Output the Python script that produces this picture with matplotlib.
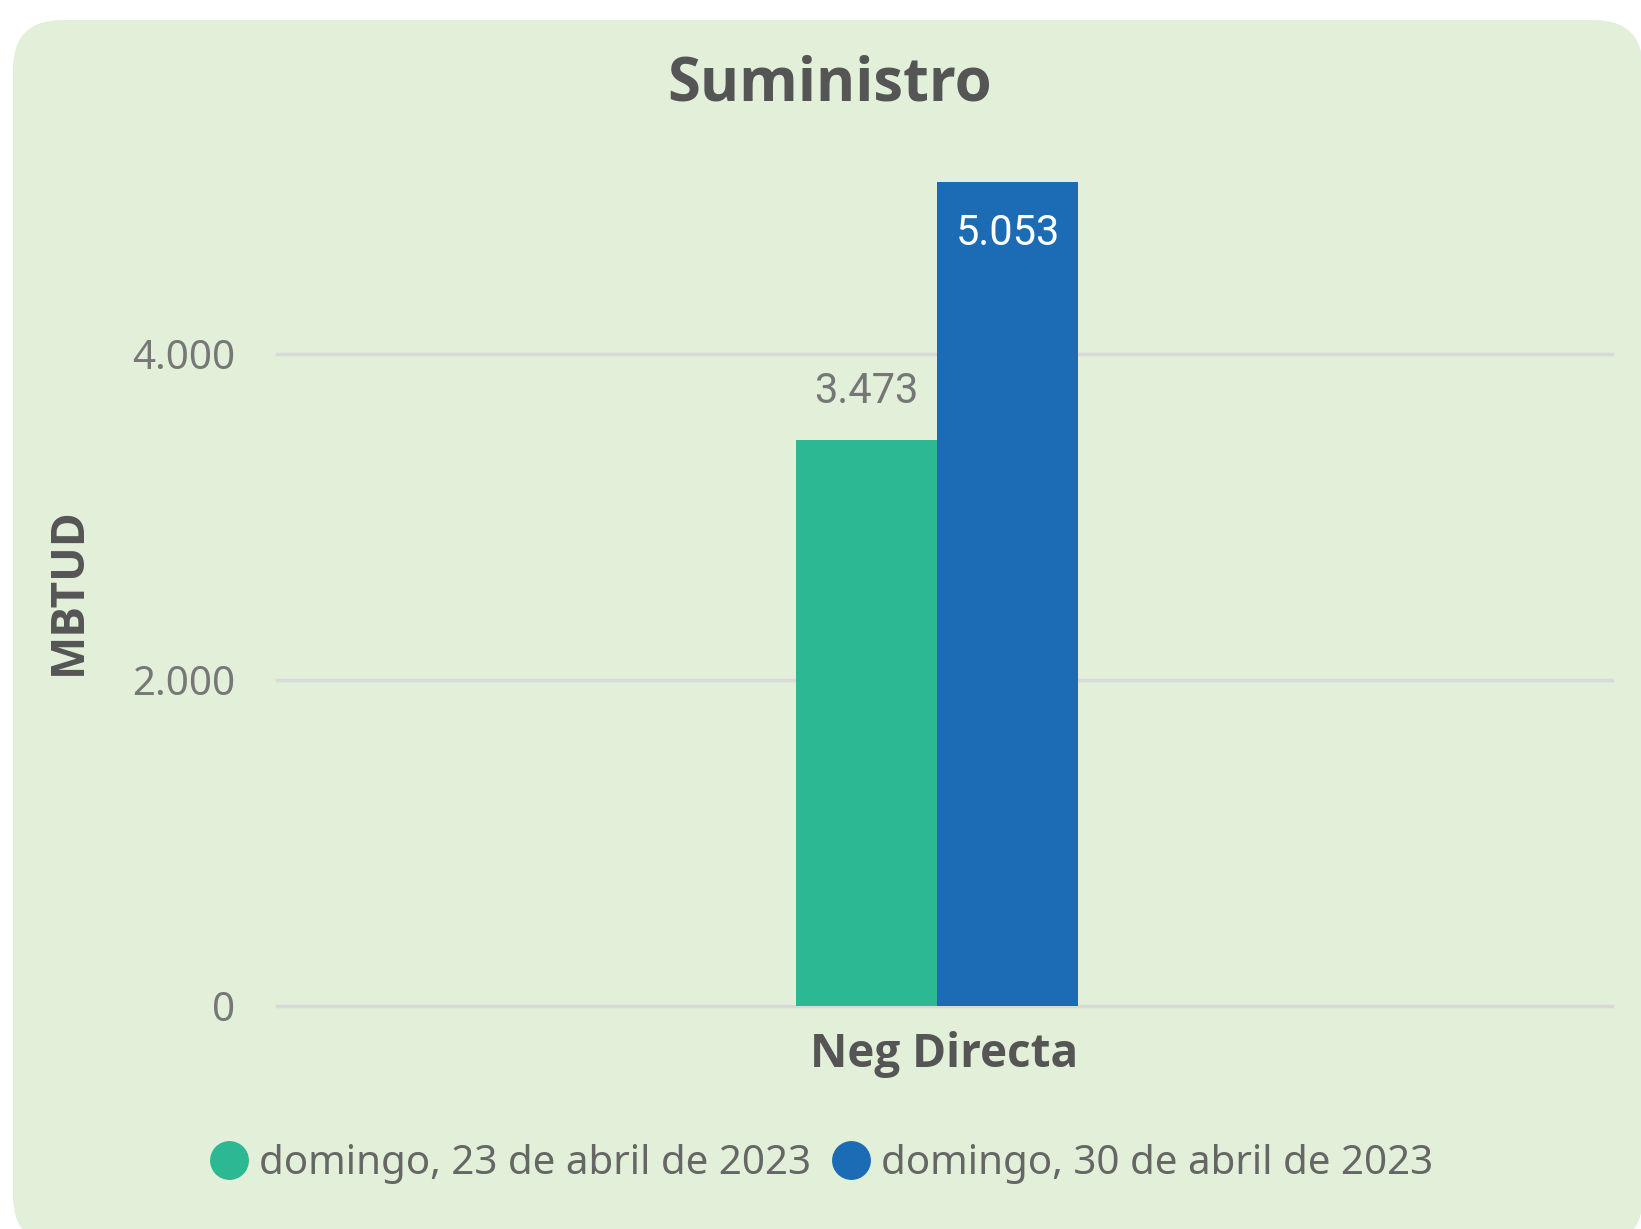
import matplotlib.pyplot as plt
from matplotlib.patches import FancyBboxPatch
from matplotlib.lines import Line2D

categories = ['Neg Directa']
series_names = ['domingo, 23 de abril de 2023', 'domingo, 30 de abril de 2023']
values_23 = [3473]
values_30 = [5053]
y_ticks = [0, 2000, 4000]
y_tick_labels = ['0', '2.000', '4.000']

green = '#2BB893'
blue = '#1B6CB4'
panel_bg = '#E2EFD9'

plt.rcParams['font.family'] = ['Noto Sans', 'DejaVu Sans']
bold_font = ['Open Sans', 'DejaVu Sans']

W, H = 1641, 1229
fig = plt.figure(figsize=(W / 100, H / 100), dpi=100)
fig.patch.set_facecolor('white')

# rounded green panel behind everything
panel = FancyBboxPatch((13 / W, 1 - 1245 / H), (1643 - 13) / W, (1245 - 20) / H,
                       boxstyle='round,pad=0,rounding_size=0.03',
                       transform=fig.transFigure, facecolor=panel_bg,
                       edgecolor='none', mutation_aspect=W / H, zorder=-5)
fig.patches.append(panel)

ax = fig.add_axes([277 / W, 1 - 1006 / H, (1612 - 277) / W, 864 / H])
ax.set_facecolor('none')
ax.set_zorder(2)

x = list(range(len(categories)))
w = 141 / 1335
b1 = ax.bar([i - w / 2 for i in x], values_23, width=w, color=green, zorder=3)
b2 = ax.bar([i + w / 2 for i in x], values_30, width=w, color=blue, zorder=3)

# bars sit a little left of the plot centre in the original
ax.set_xlim(-0.4944, 0.5056)
ax.set_ylim(0, 5300)
ax.set_yticks(y_ticks)
ax.set_yticklabels(y_tick_labels)
ax.set_xticks([i + 0.0056 for i in x])
ax.set_xticklabels(categories, fontsize=33, fontweight='bold', color='#555555',
                   family=bold_font)
ax.tick_params(axis='y', length=0, pad=30, labelsize=29, labelcolor='#777777')
ax.tick_params(axis='x', length=0, pad=18)
ax.yaxis.grid(True, color='#D9D9D9', linewidth=2.5, zorder=0)
for gl in ax.get_ygridlines():
    gl.set_clip_on(False)
for s in ax.spines.values():
    s.set_visible(False)

for rect, v in zip(b1, values_23):
    ax.annotate(f'{v:,}'.replace(',', '.'), (rect.get_x() + rect.get_width() / 2, v),
                xytext=(0, 20), textcoords='offset points', ha='center', va='bottom',
                fontsize=30, color='#767676', family='Roboto')
for rect, v in zip(b2, values_30):
    ax.annotate(f'{v:,}'.replace(',', '.'), (rect.get_x() + rect.get_width() / 2, v),
                xytext=(0, -22), textcoords='offset points', ha='center', va='top',
                fontsize=30, color='white', family='Roboto')

fig.text(830 / W, 1 - 85 / H, 'Suministro', ha='center', va='center',
         fontsize=43, fontweight='bold', color='#555555', family=bold_font)
fig.text(68 / W, 1 - 591 / H, 'MBTUD', ha='center', va='center', rotation=90,
         fontsize=33, fontweight='bold', color='#555555', family=bold_font)

handles = [Line2D([], [], linestyle='none', marker='o', markersize=28,
                  markerfacecolor=c, markeredgecolor='none') for c in (green, blue)]
fig.legend(handles, series_names, loc='center', bbox_to_anchor=(821 / W, 1 - 1164 / H),
           ncol=2, frameon=False, fontsize=29, labelcolor='#666666',
           handlelength=1.0, handletextpad=0.25, columnspacing=0.5, borderaxespad=0)

fig.savefig('out.png', dpi=100, facecolor='white')
